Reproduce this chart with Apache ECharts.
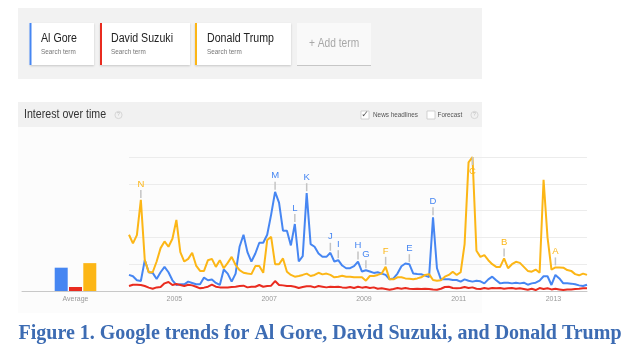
<!DOCTYPE html>
<html><head><meta charset="utf-8">
<script src="https://cdn.jsdelivr.net/npm/echarts@6/dist/echarts.min.js"></script>
<style>html,body{margin:0;padding:0;background:#fff}#c{width:640px;height:364px}</style>
</head><body><div id="c"></div>
<script>
// ---- data ----
const seriesNames = ['Al Gore', 'David Suzuki', 'Donald Trump'];
const seriesColors = ['#4686f2', '#e92b1f', '#fcb616'];
const averages = [17.4, 3, 20.8];
const avgCategory = ['Average'];
// monthly index 0 = Jan 2004 ... 116 = Sep 2013
const alGore = [12,11,8,7.5,23,14,13.5,9,14,18,
14,8,4.5,5,5,7,6,5,5,10,
8,8.5,6,4.5,16,13,7,13,33,42,
29,22,28,36,36,42,57,74,66,45,
45,34,50,22,26,73,35,33,28,25.5,
25.5,28.5,22,23,19,17,17,18.5,22,14.5,
15.5,14.5,13.5,14,13,12,8.7,9.4,13,18.5,
20.5,20,13,12.7,12.5,11.5,10.5,55,17,8.7,
8.7,8.7,8.2,8.2,7,8.7,7.7,7,7.7,7.2,
5.7,8.7,10.7,8,5.7,6.2,6.2,5.7,6.2,5.7,
6.2,4.7,5.7,6.2,7.7,11,11,4.5,12,9.4,
5.7,5.7,5.5,5,4.2,3.7,4.7];
const davidSuzuki = [3.7,4.7,4.7,4.5,3.7,2.5,1.7,2.7,3,5.7,
6.7,4.5,5.2,4.5,3.7,4.7,4.2,3.2,2,2.5,
3.2,4.7,3.2,2.7,2.7,2.7,3,3.2,3.7,4,
2.7,3.2,3.2,4.5,3.2,3.7,4,7.4,4.5,4.2,
3.7,3.7,3.2,2.2,3,3.5,3.5,2.7,3.7,3.2,
2.7,3.2,3,3.2,2.7,2.5,3,2.2,3.2,2.5,
3,2.2,2.7,1.7,2,1.5,1,1.5,2.2,1.7,
2.2,1.7,1.5,1.7,1.5,1.7,1.5,1.2,1,1.7,
3,3.2,2.2,2,2.2,3,2.2,2.7,1.7,1.5,
2.2,1.7,2.2,2,2.2,1.7,2,2.2,1.7,2,
1.5,1,1.7,0.7,2.2,1.5,2,1.2,1.7,1.2,
0.7,1.2,1.2,1.5,1.7,2,2];
const donaldTrump = [42,35.5,41.7,68,23,14,14,22,32,37,
33,39,53,29,22,24,28.5,19,15,15,
23,24,18,23,17,21,25.5,19.4,15.6,13.6,
13,12.6,18.6,18.6,13.6,38,40.4,20,20,24.3,
14.4,12,10.7,11.2,12,13,11.2,12,13.6,12.4,
13,12,10.2,10.7,11.4,10.7,10.7,10.2,10.2,10.2,
7.7,11.2,11.2,12,13,18,8.7,8.7,10.2,10.2,
9.4,9.2,8.7,9.4,10.2,12,12.6,8.2,7.7,8,
10.7,12,14.4,12,14,35,96,100,30,25.5,
26.8,23,20,18,18,24.3,17,20,21.8,21,
18,15,14.4,16,13.6,83,40,16,17.6,17.6,
17.4,15.6,15,12.6,11.7,13,12];
const yearLabels = ['2005', '2007', '2009', '2011', '2013'];
const yearLabelAt = [11.5, 35.5, 59.5, 83.5, 107.5];
const goreMarkLetters = ['M', 'L', 'K', 'J', 'I', 'H', 'G', 'E', 'D'];
const goreMarkAt = [37, 42, 45, 51, 53, 58, 60, 71, 77];
const trumpMarkLetters = ['N', 'F', 'C', 'B', 'A'];
const trumpMarkAt = [3, 65, 87, 95, 108];
const markBelow = ['C'];

// ---- chart ----
const FONT = '"Liberation Sans", Arial, sans-serif';
const chart = echarts.init(document.getElementById('c'), null, {renderer: 'canvas'});
const toPairs = arr => arr.map((v, i) => [i, v]);
function marks(letters, at, values, color) {
  return {
    silent: true, animation: false,
    symbol: 'rect', symbolSize: [1.5, 8], symbolOffset: [0, -6],
    itemStyle: {color: '#c4c4c4'},
    label: {show: true, position: 'top', distance: 1, color: color, fontSize: 9.5,
      fontFamily: FONT, formatter: p => p.name},
    data: letters.map((l, k) => {
      const item = {name: l, coord: [at[k], values[at[k]]]};
      if (markBelow.indexOf(l) >= 0) {
        item.symbolOffset = [0, 4];
        item.label = {position: 'bottom', distance: 1};
      }
      return item;
    })
  };
}
const txt = (x, y, s, size, color, extra) => Object.assign({
  type: 'text', x: x, y: y, scaleX: 0.85, z: 5,
  style: {text: s, font: size + 'px ' + FONT, fill: color, verticalAlign: 'middle', align: 'left'}
}, extra || {});
const card = (x, w, bar) => {
  const els = [{type: 'rect', z: 1, shape: {x: x, y: 23, width: w, height: 42},
    style: {fill: bar ? '#ffffff' : '#f9f9f9', shadowBlur: bar ? 2 : 0, shadowOffsetY: 1,
      shadowColor: 'rgba(0,0,0,0.18)'}}];
  if (bar) els.push({type: 'rect', z: 2, shape: {x: x, y: 23, width: 2, height: 42}, style: {fill: bar}});
  return els;
};
const help = (cx, cy) => [
  {type: 'circle', z: 3, shape: {cx: cx, cy: cy, r: 3.6}, style: {fill: 'none', stroke: '#cfcfcf', lineWidth: 0.8}},
  {type: 'text', z: 4, x: cx, y: cy, style: {text: '?', font: '5px ' + FONT, fill: '#bbb', align: 'center', verticalAlign: 'middle'}}
];
const graphics = [].concat(
  [{type: 'rect', z: -10, shape: {x: 18, y: 8, width: 464, height: 71}, style: {fill: '#f2f2f2'}}],
  card(29.5, 64.5, seriesColors[0]), card(100, 90, seriesColors[1]), card(195, 96, seriesColors[2]), card(297, 74, null),
  [
    txt(41, 39, seriesNames[0], 12.5, '#222'), txt(41, 52, 'Search term', 7.5, '#777'),
    txt(111, 39, seriesNames[1], 12.5, '#222'), txt(111, 52, 'Search term', 7.5, '#777'),
    txt(207, 39, seriesNames[2], 12.5, '#222'), txt(207, 52, 'Search term', 7.5, '#777'),
    txt(309, 44, '+ Add term', 12, '#a8a8a8'),
    {type: 'rect', z: -10, shape: {x: 18, y: 102, width: 464, height: 25}, style: {fill: '#f1f1f1'}},
    {type: 'rect', z: -10, shape: {x: 18, y: 127, width: 464, height: 186}, style: {fill: '#fcfcfc'}},
    txt(24, 115, 'Interest over time', 12.5, '#333'),
    {type: 'rect', z: 3, shape: {x: 361, y: 111, width: 8, height: 8}, style: {fill: '#fff', stroke: '#c8c8c8', lineWidth: 0.8}},
    {type: 'text', z: 4, x: 365, y: 114.5, style: {text: '\u2713', font: '9px "DejaVu Sans"', fill: '#555', align: 'center', verticalAlign: 'middle'}},
    txt(373, 115, 'News headlines', 7.5, '#555'),
    {type: 'rect', z: 3, shape: {x: 427, y: 111, width: 8, height: 8}, style: {fill: '#fff', stroke: '#c8c8c8', lineWidth: 0.8}},
    txt(437.5, 115, 'Forecast', 7.5, '#555'),
    {type: 'text', z: 5, x: 320, y: 334, style: {text: 'Figure 1. Google trends for Al Gore, David Suzuki, and Donald Trump',
      font: 'bold 20px "Liberation Serif", serif', fill: '#3d6cb3', align: 'center', verticalAlign: 'middle'}}
  ],
  help(118.5, 115), help(474.5, 115)
);

const option = {
  animation: false,
  backgroundColor: '#ffffff',
  graphic: {elements: graphics},
  grid: [
    {left: 22, top: 157, width: 107, height: 134},
    {left: 129, top: 157, width: 458, height: 134}
  ],
  xAxis: [
    {type: 'category', gridIndex: 0, data: avgCategory,
      axisLine: {lineStyle: {color: '#c8c8c8'}}, axisTick: {show: false},
      axisLabel: {fontSize: 7, color: '#999', margin: 5, fontFamily: FONT}},
    {type: 'value', gridIndex: 1, min: 0, max: alGore.length - 1,
      splitLine: {show: false}, axisTick: {show: false},
      axisLine: {show: true, lineStyle: {color: '#c8c8c8'}},
      axisLabel: {customValues: yearLabelAt, fontSize: 7, color: '#999', margin: 5, fontFamily: FONT,
        formatter: v => yearLabels[yearLabelAt.indexOf(v)] || ''}}
  ],
  yAxis: [
    {type: 'value', gridIndex: 0, min: 0, max: 100, show: false, splitLine: {show: false}},
    {type: 'value', gridIndex: 1, min: 0, max: 100, interval: 20,
      axisLine: {show: false}, axisTick: {show: false}, axisLabel: {show: false},
      splitLine: {lineStyle: {color: '#ececec', width: 1}}}
  ],
  series: [
    {type: 'bar', xAxisIndex: 0, yAxisIndex: 0, data: [averages[0]], barWidth: 13, barGap: '10%', itemStyle: {color: seriesColors[0]}},
    {type: 'bar', xAxisIndex: 0, yAxisIndex: 0, data: [averages[1]], barWidth: 13, barGap: '10%', itemStyle: {color: seriesColors[1]}},
    {type: 'bar', xAxisIndex: 0, yAxisIndex: 0, data: [averages[2]], barWidth: 13, barGap: '10%', itemStyle: {color: seriesColors[2]}},
    {type: 'line', name: seriesNames[0], xAxisIndex: 1, yAxisIndex: 1, data: toPairs(alGore), showSymbol: false,
      lineStyle: {width: 2, color: seriesColors[0]}, itemStyle: {color: seriesColors[0]},
      markPoint: marks(goreMarkLetters, goreMarkAt, alGore, seriesColors[0])},
    {type: 'line', name: seriesNames[1], xAxisIndex: 1, yAxisIndex: 1, data: toPairs(davidSuzuki), showSymbol: false,
      lineStyle: {width: 2, color: seriesColors[1]}, itemStyle: {color: seriesColors[1]}},
    {type: 'line', name: seriesNames[2], xAxisIndex: 1, yAxisIndex: 1, data: toPairs(donaldTrump), showSymbol: false,
      lineStyle: {width: 2, color: seriesColors[2]}, itemStyle: {color: seriesColors[2]},
      markPoint: marks(trumpMarkLetters, trumpMarkAt, donaldTrump, seriesColors[2])}
  ]
};
chart.setOption(option);
</script></body></html>
